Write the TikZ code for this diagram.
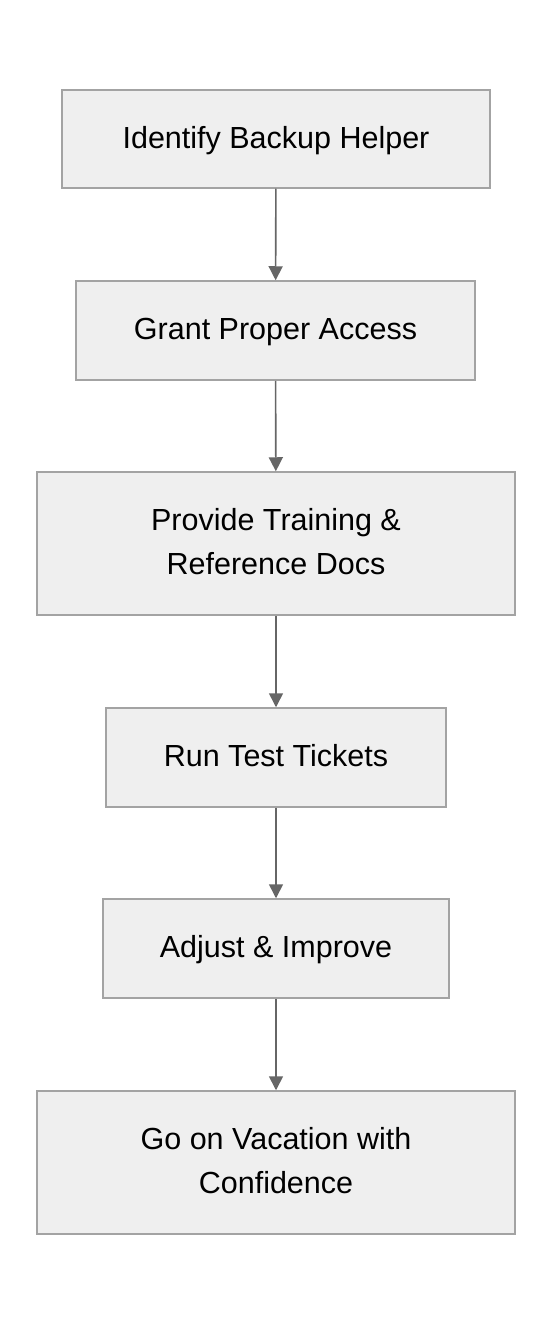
\documentclass[tikz,border=0pt]{standalone}
\usepackage{fontspec}
\setmainfont{Liberation Sans}
\usepackage{tikz}
\usetikzlibrary{arrows.meta}
\definecolor{boxfill}{HTML}{EFEFEF}
\definecolor{boxline}{HTML}{A3A3A3}
\definecolor{arrowgray}{HTML}{666666}

\begin{document}
\begin{tikzpicture}[x=1pt,y=-1pt]
    \tikzstyle{stage}=[draw=boxline,line width=1.5pt,fill=boxfill,text=black,align=center,font=\fontsize{30.5}{44}\selectfont,inner sep=0pt,text depth=4pt]
    \tikzstyle{edge} = [draw,line width=1.6pt,color=arrowgray,-{Triangle[length=14pt,width=14pt]}]

    \useasboundingbox (0,0) rectangle (552,1324);

    \node[stage, minimum width=428pt, minimum height=98pt] (helper) at (276, 139) {Identify Backup Helper};
    \node[stage, minimum width=399pt, minimum height=99pt] (access) at (275.5, 330.5) {Grant Proper Access};
    \node[stage, minimum width=478pt, minimum height=143pt] (training) at (276, 543.5) {Provide Training \&\\ Reference Docs};
    \node[stage, minimum width=340pt, minimum height=99pt] (tests) at (276, 757.5) {Run Test Tickets};
    \node[stage, minimum width=346pt, minimum height=99pt] (adjust) at (276, 948.5) {Adjust \& Improve};
    \node[stage, minimum width=478pt, minimum height=143pt] (vacation) at (276, 1162.5) {Go on Vacation with\\ Confidence};

    \path[edge] (helper) -- (access);
    \path[edge] (access) -- (training);
    \path[edge] (training) -- (tests);
    \path[edge] (tests) -- (adjust);
    \path[edge] (adjust) -- (vacation);

\end{tikzpicture}
\end{document}
